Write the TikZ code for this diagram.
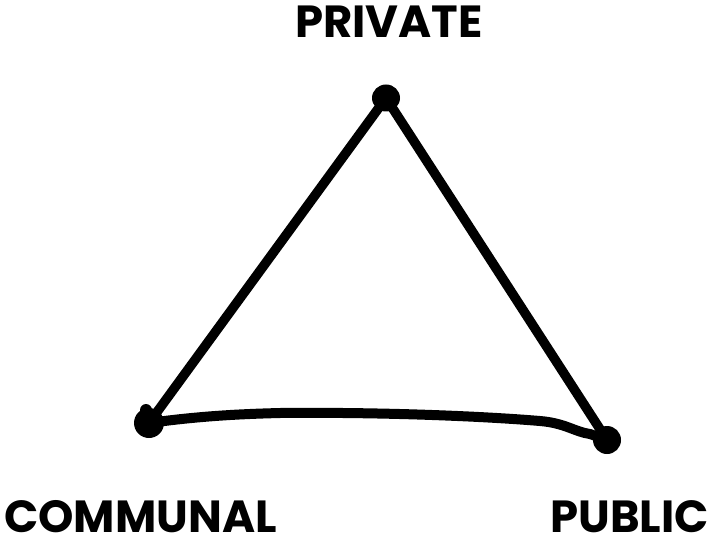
\documentclass[tikz,border=0pt]{standalone}
\usepackage{fontspec}
\setmainfont{Poppins}[BoldFont={* Bold}]
\begin{document}
\begin{tikzpicture}[x=1pt,y=-1pt,
  lbl/.style={inner sep=0pt,text depth=0pt,font=\fontsize{45}{45}\selectfont\bfseries},
  stroke/.style={line width=9.5pt,line cap=round,line join=round}]
\useasboundingbox (0,0) rectangle (711,537);
\fill[white] (0,0) rectangle (711,537);
\node[lbl,anchor=base] (priv) at (389,38) {PRIVATE};
\node[lbl,anchor=base west] (comm) at (4,532) {COMMUNAL};
\node[lbl,anchor=base east] (pub) at (709,532) {PUBLIC};
\coordinate (top) at (386,98);
\coordinate (bl) at (149,423);
\coordinate (br) at (607,440);
\fill (top) ellipse [x radius=14, y radius=13.5];
\fill (bl) circle [radius=15];
\fill (146,410) circle [radius=6];
\fill (br) circle [radius=14];
\draw[stroke] (top) -- (bl);
\draw[stroke] (top) -- (br);
\draw[stroke,line width=10pt] (bl) .. controls (200,416) and (240,414) .. (280,413)
  .. controls (380,412) and (480,416) .. (540,421)
  .. controls (565,423) and (575,432) .. (590,434) -- (br);
\end{tikzpicture}
\end{document}
